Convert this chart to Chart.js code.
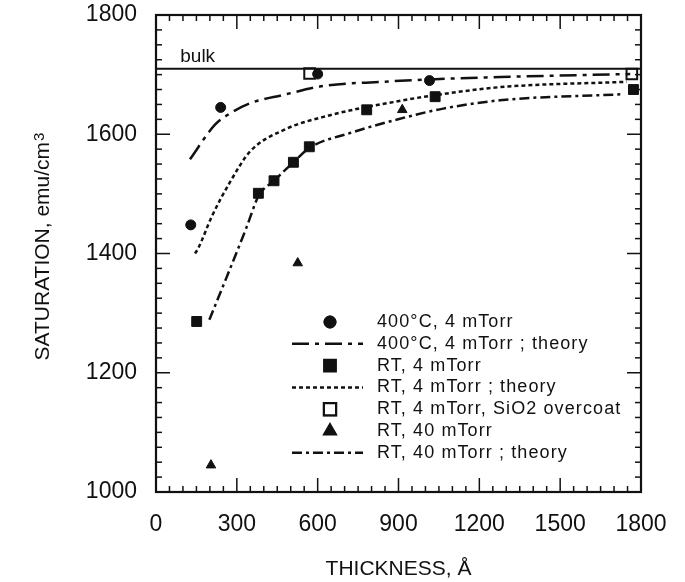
<!DOCTYPE html>
<html>
<head>
<meta charset="utf-8">
<title>Saturation vs thickness</title>
<script src="https://cdn.jsdelivr.net/npm/chart.js@4.4.1/dist/chart.umd.min.js"></script>
<style>
  html, body { margin: 0; padding: 0; background: #fff; }
  #wrap { width: 685px; height: 582px; }
</style>
</head>
<body>
<div id="wrap"><canvas id="satChart" width="685" height="582"></canvas></div>
<script>
// thickness (Å) / saturation (emu/cm3)
const bulkX = [0, 1800];
const bulkY = [1710, 1710];

const hot4X = [129, 240, 600, 1015];
const hot4Y = [1448, 1645, 1701, 1690];
const hot4TheoryX = [126, 219, 275, 349, 473, 621, 844, 1017, 1277, 1760];
const hot4TheoryY = [1558, 1616, 1635, 1652, 1666, 1681, 1688, 1692, 1696, 1701];

const rt4X = [151, 380, 438, 510, 569, 782, 1036, 1772];
const rt4Y = [1286, 1501, 1522, 1553, 1579, 1641, 1663, 1675];
const rt4TheoryX = [145, 157, 207, 275, 349, 473, 646, 918, 1042, 1277, 1747];
const rt4TheoryY = [1400, 1409, 1462, 1520, 1571, 1607, 1632, 1657, 1666, 1679, 1688];

const rt4OxideX = [570, 1766];
const rt4OxideY = [1702, 1701];

const rt40X = [204, 526, 914];
const rt40Y = [1045, 1384, 1641];
const rt40TheoryX = [198, 262, 337, 380, 438, 510, 569, 720, 931, 1066, 1277, 1728];
const rt40TheoryY = [1289, 1360, 1445, 1496, 1522, 1553, 1577, 1602, 1629, 1643, 1657, 1667];

const xTickStep = 300, xMinorStep = 50;
const yTickStep = 200, yMinorStep = 25;

const ink = '#111';
const fontFamily = '"Liberation Sans", Arial, Helvetica, sans-serif';

const pts = (xs, ys) => xs.map((x, i) => ({ x: x, y: ys[i] }));

const lineSet = (label, xs, ys, dash) => ({
  label: label,
  data: pts(xs, ys),
  showLine: true,
  borderColor: ink,
  borderWidth: 2.5,
  borderDash: dash,
  pointRadius: 0,
  cubicInterpolationMode: 'monotone',
  fill: false,
});

const markSet = (label, xs, ys, style, radius, filled) => ({
  label: label,
  data: pts(xs, ys),
  showLine: false,
  pointStyle: style,
  pointRadius: radius,
  pointBorderWidth: filled ? 1 : 2,
  pointBackgroundColor: filled ? ink : '#fff',
  pointBorderColor: ink,
});

const datasets = [
  lineSet('bulk', bulkX, bulkY, []),
  lineSet('400°C, 4 mTorr ; theory', hot4TheoryX, hot4TheoryY, [17, 6, 4, 6]),
  lineSet('RT, 4 mTorr ; theory', rt4TheoryX, rt4TheoryY, [4, 3]),
  lineSet('RT, 40 mTorr ; theory', rt40TheoryX, rt40TheoryY, [10, 4, 3, 4]),
  markSet('400°C, 4 mTorr', hot4X, hot4Y, 'circle', 5, true),
  markSet('RT, 4 mTorr', rt4X, rt4Y, 'rect', 7, true),
  markSet('RT, 4 mTorr, SiO2 overcoat', rt4OxideX, rt4OxideY, 'rect', 7.5, false),
  markSet('RT, 40 mTorr', rt40X, rt40Y, 'triangle', 5.5, true),
];
datasets[0].borderWidth = 2;
datasets[0].cubicInterpolationMode = 'default';

const legendOrder = [
  '400°C, 4 mTorr',
  '400°C, 4 mTorr ; theory',
  'RT, 4 mTorr',
  'RT, 4 mTorr ; theory',
  'RT, 4 mTorr, SiO2 overcoat',
  'RT, 40 mTorr',
  'RT, 40 mTorr ; theory',
];

// box around the plot with inward ticks on all four sides
const frameTicks = {
  id: 'frameTicks',
  afterDatasetsDraw(chart) {
    const { ctx, chartArea: a, scales: { x, y } } = chart;
    const seg = (x1, y1, x2, y2) => {
      ctx.beginPath(); ctx.moveTo(x1, y1); ctx.lineTo(x2, y2); ctx.stroke();
    };
    ctx.save();
    ctx.strokeStyle = ink;
    ctx.lineWidth = 1.5;
    for (let v = x.min; v <= x.max; v += xMinorStep) {
      const px = x.getPixelForValue(v);
      const len = v % xTickStep === 0 ? 14 : 6;
      seg(px, a.bottom, px, a.bottom - len);
      seg(px, a.top, px, a.top + len);
    }
    for (let v = y.min; v <= y.max; v += yMinorStep) {
      const py = y.getPixelForValue(v);
      const len = v % yTickStep === 0 ? 14 : 6;
      seg(a.left, py, a.left + len, py);
      seg(a.right, py, a.right - len, py);
    }
    ctx.lineWidth = 2.2;
    ctx.strokeRect(a.left, a.top, a.right - a.left, a.bottom - a.top);

    // "bulk" tag above the bulk line
    ctx.fillStyle = ink;
    ctx.font = '19px ' + fontFamily;
    ctx.textAlign = 'left';
    ctx.textBaseline = 'alphabetic';
    ctx.fillText('bulk', x.getPixelForValue(90), y.getPixelForValue(bulkY[0]) - 7);
    ctx.restore();
  }
};

// y title with raised exponent
const yTitle = {
  id: 'yTitle',
  afterDraw(chart) {
    const { ctx, chartArea: a } = chart;
    const main = 'SATURATION, emu/cm';
    const sup = '3';
    ctx.save();
    ctx.fillStyle = ink;
    ctx.font = '21px ' + fontFamily;
    const wMain = ctx.measureText(main).width;
    ctx.font = '15px ' + fontFamily;
    const wSup = ctx.measureText(sup).width;
    const total = wMain + wSup + 1;
    ctx.translate(49, (a.top + a.bottom) / 2 - 7);
    ctx.rotate(-Math.PI / 2);
    ctx.textAlign = 'left';
    ctx.textBaseline = 'alphabetic';
    ctx.font = '21px ' + fontFamily;
    ctx.fillText(main, -total / 2, 0);
    ctx.font = '15px ' + fontFamily;
    ctx.fillText(sup, -total / 2 + wMain + 1, -5);
    ctx.restore();
  }
};

// legend block inside the plot, lower right
const plotLegend = {
  id: 'plotLegend',
  afterDraw(chart) {
    const { ctx, chartArea: a } = chart;
    const rowH = 21.8;
    const top = a.top + 307;
    const symX = a.left + 174;
    const lineL = a.left + 136, lineR = a.left + 207;
    const textX = a.left + 221;
    ctx.save();
    ctx.fillStyle = ink;
    ctx.strokeStyle = ink;
    ctx.font = '18px ' + fontFamily;
    if ('letterSpacing' in ctx) ctx.letterSpacing = '1.1px';
    ctx.textBaseline = 'middle';
    ctx.textAlign = 'left';
    legendOrder.forEach((label, i) => {
      const ds = chart.data.datasets.find(d => d.label === label);
      const cy = top + i * rowH;
      if (ds.showLine) {
        ctx.lineWidth = ds.borderWidth;
        ctx.setLineDash(ds.borderDash);
        ctx.beginPath();
        ctx.moveTo(lineL, cy);
        ctx.lineTo(lineR, cy);
        ctx.stroke();
        ctx.setLineDash([]);
      } else {
        Chart.helpers.drawPoint(ctx, {
          pointStyle: ds.pointStyle,
          radius: ds.pointRadius + 1,
          borderWidth: ds.pointBorderWidth,
        }, symX, cy);
        ctx.save();
        ctx.fillStyle = ds.pointBackgroundColor;
        ctx.lineWidth = ds.pointBorderWidth;
        ctx.fill();
        ctx.stroke();
        ctx.restore();
      }
      ctx.fillText(label, textX, cy);
    });
    ctx.restore();
  }
};

new Chart(document.getElementById('satChart'), {
  type: 'scatter',
  data: { datasets: datasets },
  plugins: [frameTicks, yTitle, plotLegend],
  options: {
    responsive: false,
    animation: false,
    devicePixelRatio: 1,
    layout: { padding: { top: 15, right: 44, left: 0, bottom: 0 } },
    plugins: { legend: { display: false }, tooltip: { enabled: false } },
    scales: {
      x: {
        type: 'linear',
        min: 0,
        max: 1800,
        afterFit: (s) => { s.height = 90; },
        // tick marks are drawn by frameTicks; tickLength only sets the label gap
        grid: { display: false, drawTicks: true, tickLength: 19 },
        border: { display: false },
        ticks: {
          stepSize: xTickStep,
          color: ink,
          padding: 0,
          font: { family: fontFamily, size: 23 },
          maxRotation: 0,
          callback: (v) => String(v),
        },
        title: {
          display: true,
          text: 'THICKNESS, Å',
          color: ink,
          font: { family: fontFamily, size: 21 },
          padding: { top: 0, bottom: 0 },
        },
      },
      y: {
        type: 'linear',
        min: 1000,
        max: 1800,
        afterFit: (s) => { s.width = 156; },
        grid: { display: false, drawTicks: true, tickLength: 19 },
        border: { display: false },
        ticks: {
          stepSize: yTickStep,
          color: ink,
          padding: 0,
          font: { family: fontFamily, size: 23 },
          callback: (v) => String(v),
        },
      },
    },
  },
});
</script>
</body>
</html>
